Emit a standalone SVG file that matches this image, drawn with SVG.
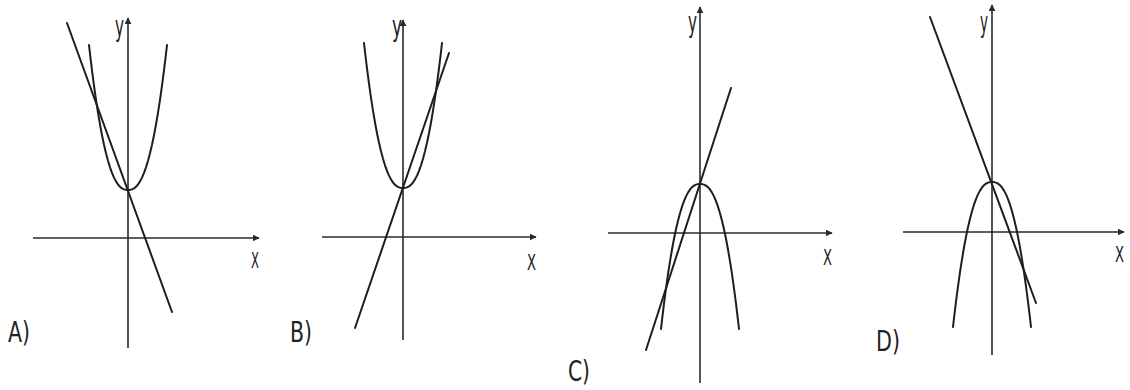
<svg xmlns="http://www.w3.org/2000/svg" xmlns:xlink="http://www.w3.org/1999/xlink" width="1130" height="390" viewBox="0 0 1130 390">
<style>
.axis{stroke:#2a2a2a;stroke-width:1.6;fill:none}
.curve{stroke:#1e1e1e;stroke-width:2;fill:none;stroke-linejoin:round;stroke-linecap:round}
.lbl{font-family:"Liberation Sans Narrow","DejaVu Sans Condensed","Liberation Sans",sans-serif;fill:#222}
</style>
<defs>
<marker id="arr" viewBox="0 0 10 10" refX="9" refY="5" markerWidth="7" markerHeight="7" markerUnits="userSpaceOnUse" orient="auto">
<path d="M0,0 L10,5 L0,10 z" fill="#2a2a2a"/>
</marker>
<path id="para" d="M-39,-145 L-38,-136.2 L-36,-119.7 L-34,-104.3 L-32,-90.2 L-30,-77.3 L-28,-65.5 L-26,-54.8 L-24,-45.2 L-22,-36.7 L-20,-29.2 L-18,-22.7 L-16,-17.1 L-14,-12.4 L-12,-8.6 L-10,-5.5 L-8,-3.2 L-6,-1.6 L-4,-0.6 L-2,-0.1 L0,0 L2,-0.1 L4,-0.6 L6,-1.6 L8,-3.2 L10,-5.5 L12,-8.6 L14,-12.4 L16,-17.1 L18,-22.7 L20,-29.2 L22,-36.7 L24,-45.2 L26,-54.8 L28,-65.5 L30,-77.3 L32,-90.2 L34,-104.3 L36,-119.7 L38,-136.2 L39,-145"/>
</defs>

<g id="panelA">
<line class="axis" x1="33" y1="238" x2="259" y2="238" marker-end="url(#arr)"/>
<line class="axis" x1="128" y1="348" x2="128" y2="18" marker-end="url(#arr)"/>
<use xlink:href="#para" class="curve" transform="translate(128,190)"/>
<line class="curve" x1="67" y1="23" x2="172" y2="312"/>
<text class="lbl" x="115" y="36" font-size="28" textLength="9" lengthAdjust="spacingAndGlyphs">y</text>
<text class="lbl" x="251" y="268" font-size="22" textLength="8" lengthAdjust="spacingAndGlyphs">X</text>
<text class="lbl" x="8" y="342" font-size="28" textLength="22" lengthAdjust="spacingAndGlyphs">A)</text>
</g>

<g id="panelB">
<line class="axis" x1="322" y1="237" x2="536" y2="237" marker-end="url(#arr)"/>
<line class="axis" x1="403" y1="340" x2="403" y2="20" marker-end="url(#arr)"/>
<use xlink:href="#para" class="curve" transform="translate(403,188)"/>
<line class="curve" x1="355" y1="328" x2="449" y2="53"/>
<text class="lbl" x="392" y="36" font-size="28" textLength="10" lengthAdjust="spacingAndGlyphs">y</text>
<text class="lbl" x="527" y="270" font-size="22" textLength="9" lengthAdjust="spacingAndGlyphs">X</text>
<text class="lbl" x="290" y="342" font-size="28" textLength="22" lengthAdjust="spacingAndGlyphs">B)</text>
</g>

<g id="panelC">
<line class="axis" x1="608" y1="233" x2="832" y2="233" marker-end="url(#arr)"/>
<line class="axis" x1="700" y1="383" x2="700" y2="7" marker-end="url(#arr)"/>
<use xlink:href="#para" class="curve" transform="translate(700,184) scale(1,-1)"/>
<line class="curve" x1="646" y1="350" x2="731" y2="88"/>
<text class="lbl" x="688" y="32" font-size="28" textLength="9" lengthAdjust="spacingAndGlyphs">y</text>
<text class="lbl" x="823" y="265" font-size="22" textLength="9" lengthAdjust="spacingAndGlyphs">X</text>
<text class="lbl" x="568" y="381" font-size="28" textLength="22" lengthAdjust="spacingAndGlyphs">C)</text>
</g>

<g id="panelD">
<line class="axis" x1="903" y1="232" x2="1124" y2="232" marker-end="url(#arr)"/>
<line class="axis" x1="992" y1="355" x2="992" y2="5" marker-end="url(#arr)"/>
<use xlink:href="#para" class="curve" transform="translate(992,182) scale(1,-1)"/>
<line class="curve" x1="930" y1="17" x2="1036" y2="303"/>
<text class="lbl" x="980" y="32" font-size="28" textLength="8" lengthAdjust="spacingAndGlyphs">y</text>
<text class="lbl" x="1115" y="262" font-size="22" textLength="9" lengthAdjust="spacingAndGlyphs">X</text>
<text class="lbl" x="876" y="351" font-size="28" textLength="24" lengthAdjust="spacingAndGlyphs">D)</text>
</g>
</svg>
